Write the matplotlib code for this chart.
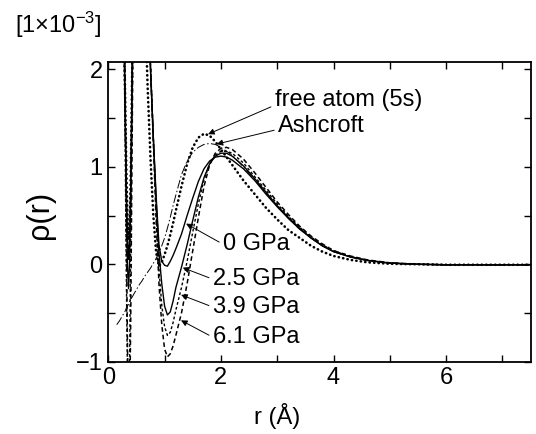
import numpy as np
import matplotlib
matplotlib.use('Agg')
import matplotlib.pyplot as plt
from matplotlib.ticker import MultipleLocator, FuncFormatter

plt.rcParams['font.family'] = ['Liberation Sans', 'DejaVu Sans']
plt.rcParams['mathtext.fontset'] = 'custom'
plt.rcParams['mathtext.rm'] = 'Liberation Sans'
plt.rcParams['mathtext.it'] = 'Liberation Sans:italic'

# radial grid (Angstrom) shared by all curves
r = [0.0, 0.1, 0.15, 0.2, 0.25, 0.28, 0.3, 0.32, 0.34, 0.36, 0.38,
     0.4, 0.42, 0.44, 0.46, 0.5, 0.55, 0.6, 0.65, 0.7, 0.75,
     0.8, 0.85, 0.9, 0.95, 1.0, 1.05, 1.1, 1.15, 1.2, 1.3,
     1.4, 1.5, 1.6, 1.7, 1.8, 1.9, 2.0, 2.1, 2.2, 2.4,
     2.6, 2.8, 3.0, 3.2, 3.4, 3.6, 3.8, 4.0, 4.3, 4.6,
     5.0, 5.5, 6.0, 6.5, 7.0, 7.5]

# rho(r) in units of 1e-3
rho_0gpa = [6.0, 6.0, 6.0, 5.5, 3.6, 2.3, 1.5, 0.8, 0.3, 0.05, 0.25,
            0.85, 1.7, 2.6, 3.4, 4.4, 4.9, 4.7, 3.9, 2.8, 2.0,
            1.3, 0.7, 0.2, 0.03, -0.01, -0.02, 0.03, 0.09, 0.16, 0.31,
            0.5, 0.68, 0.85, 0.98, 1.06, 1.1, 1.11, 1.1, 1.07, 0.98,
            0.86, 0.72, 0.59, 0.47, 0.36, 0.27, 0.19, 0.13, 0.075, 0.04,
            0.012, 0.0, -0.005, -0.005, -0.005, -0.005]
rho_25gpa = [6.0, 6.0, 6.0, 5.6, 3.8, 2.5, 1.6, 0.7, 0.0, -0.25, 0.05,
             0.8, 1.8, 2.8, 3.6, 4.6, 5.0, 4.8, 4.0, 2.9, 2.0,
             1.3, 0.65, 0.12, -0.2, -0.43, -0.52, -0.49, -0.38, -0.24, -0.03,
             0.2, 0.45, 0.69, 0.89, 1.03, 1.11, 1.14, 1.14, 1.11, 1.01,
             0.88, 0.74, 0.6, 0.48, 0.37, 0.27, 0.19, 0.13, 0.075, 0.04,
             0.012, 0.0, -0.005, -0.005, -0.005, -0.005]
rho_39gpa = [6.0, 6.0, 6.0, 5.8, 4.0, 2.4, 1.2, -0.1, -1.1, -1.5, -0.9,
             0.3, 1.6, 2.8, 3.7, 4.8, 5.2, 5.0, 4.1, 3.0, 2.05,
             1.3, 0.55, -0.05, -0.42, -0.64, -0.73, -0.7, -0.6, -0.47, -0.24,
             0.03, 0.33, 0.62, 0.87, 1.03, 1.12, 1.16, 1.16, 1.14, 1.04,
             0.9, 0.76, 0.62, 0.49, 0.38, 0.28, 0.2, 0.14, 0.08, 0.04,
             0.013, 0.0, -0.005, -0.005, -0.005, -0.005]
rho_61gpa = [6.0, 6.0, 6.0, 6.0, 4.4, 3.0, 1.9, 0.4, -0.8, -1.6, -1.5,
             -0.5, 1.0, 2.4, 3.5, 4.9, 5.4, 5.1, 4.2, 3.0, 2.05,
             1.25, 0.45, -0.2, -0.62, -0.87, -0.95, -0.92, -0.84, -0.73, -0.5,
             -0.2, 0.14, 0.48, 0.8, 1.02, 1.14, 1.19, 1.2, 1.18, 1.08,
             0.94, 0.79, 0.64, 0.51, 0.39, 0.29, 0.21, 0.14, 0.085, 0.045,
             0.015, 0.0, -0.005, -0.005, -0.005, -0.005]
rho_free = [6.0, 6.0, 6.0, 5.0, 3.4, 2.4, 1.7, 1.0, 0.5, 0.25, 0.4,
            0.95, 1.8, 2.6, 3.2, 3.8, 3.9, 3.5, 2.7, 1.8, 1.08,
            0.5, 0.12, -0.02, 0.02, 0.1, 0.19, 0.3, 0.42, 0.55, 0.8,
            1.03, 1.2, 1.3, 1.34, 1.32, 1.26, 1.18, 1.1, 1.02, 0.86,
            0.72, 0.58, 0.46, 0.35, 0.27, 0.19, 0.13, 0.085, 0.045, 0.02,
            0.005, 0.0, -0.005, -0.005, -0.005, -0.005]
rho_ashcroft = [np.nan, np.nan, -0.62, -0.58, -0.53, -0.5, -0.48, -0.45, -0.43, -0.41, -0.38,
                -0.36, -0.34, -0.32, -0.3, -0.26, -0.21, -0.17, -0.12, -0.08, -0.04,
                0.01, 0.06, 0.12, 0.19, 0.27, 0.37, 0.48, 0.6, 0.71, 0.92,
                1.06, 1.15, 1.2, 1.23, 1.24, 1.23, 1.2, 1.16, 1.12, 1.0,
                0.87, 0.73, 0.6, 0.47, 0.36, 0.27, 0.19, 0.13, 0.075, 0.04,
                0.012, 0.0, -0.005, -0.005, -0.005, -0.005]

fig = plt.figure(figsize=(5.36, 4.34), dpi=100)
ax = fig.add_axes([0.202, 0.1666, 0.788, 0.6914])

ax.plot(r, rho_0gpa, color='k', lw=1.0, ls='-')
ax.plot(r, rho_25gpa, color='k', lw=1.0, ls='-')
ax.plot(r, rho_39gpa, color='k', lw=1.0, ls=(0, (2.0, 1.6)))
ax.plot(r, rho_61gpa, color='k', lw=1.1, ls=(0, (3.0, 2.0)))
ax.plot(r, rho_ashcroft, color='k', lw=0.7, ls=(0, (9, 2.5, 1.5, 2.5)))
ax.plot(r, rho_free, color='k', lw=1.9, ls=(0, (0.1, 1.6)), dash_capstyle='round')

ax.set_xlim(0, 7.5)
ax.set_ylim(-1, 2.08)

ax.xaxis.set_major_locator(MultipleLocator(1))
ax.xaxis.set_major_formatter(FuncFormatter(lambda v, p: f'{v:.0f}' if int(round(v)) % 2 == 0 else ''))
ax.yaxis.set_major_locator(MultipleLocator(0.5))
ax.yaxis.set_major_formatter(FuncFormatter(
    lambda v, p: (f'{v:.0f}'.replace('-', '\u2212')) if abs(v - round(v)) < 1e-6 else ''))
ax.tick_params(direction='in', length=5, width=1.0, top=True, right=True,
               labelsize=17, pad=4)
for s in ax.spines.values():
    s.set_linewidth(1.3)

ax.set_xlabel('r (Å)', fontsize=17, va='center')
ax.xaxis.set_label_coords(0.40, -0.18)
ax.set_ylabel('ρ(r)', fontsize=22, va='center')
ax.yaxis.set_label_coords(-0.162, 0.49)

fig.text(0.028, 0.942, r'[1$\times$10$^{-3}$]', fontsize=17, va='center', ha='left')

arrow = dict(arrowstyle='-|>', color='k', lw=0.7, mutation_scale=9,
             shrinkA=1, shrinkB=1)

labels = [
    ('free atom (5s)', r, rho_free, 1.75, (2.96, 1.69), (0, 0.25)),
    ('Ashcroft', r, rho_ashcroft, 1.9, (3.02, 1.42), (0, 0.35)),
    ('0 GPa', r, rho_0gpa, 1.36, (2.04, 0.205), (0, 0.5)),
    ('2.5 GPa', r, rho_25gpa, 1.3, (1.86, -0.154), (0, 0.5)),
    ('3.9 GPa', r, rho_39gpa, 1.27, (1.86, -0.44), (0, 0.5)),
    ('6.1 GPa', r, rho_61gpa, 1.27, (1.86, -0.75), (0, 0.5)),
]
for text, xs, ys, rt, pos, rel in labels:
    tip = (rt, np.interp(rt, xs, ys))
    a = dict(arrow, relpos=rel)
    ax.annotate(text, xy=tip, xytext=pos, fontsize=17, va='center', ha='left',
                arrowprops=a)

fig.savefig('out.png', dpi=100)
